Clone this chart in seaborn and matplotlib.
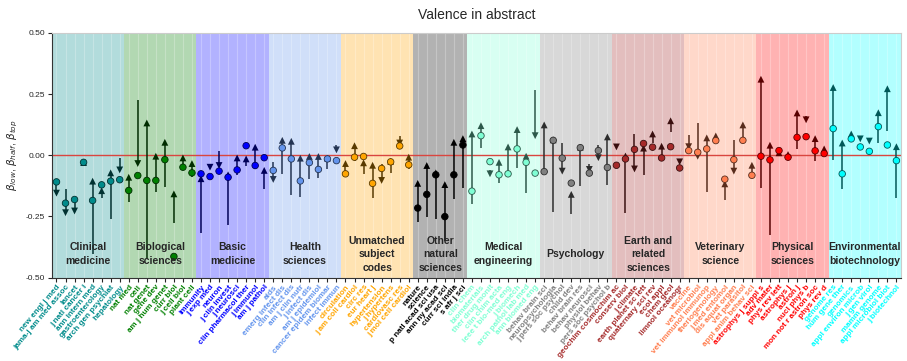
import numpy as np
import pandas as pd
import matplotlib
matplotlib.use("Agg")
import matplotlib.pyplot as plt
import seaborn as sns
from matplotlib.colors import to_rgb

# groups (subject areas) and their colours
groups = ["Clinical\nmedicine", "Biological\nsciences", "Basic\nmedicine", "Health\nsciences",
          "Unmatched\nsubject\ncodes", "Other\nnatural\nsciences", "Medical\nengineering",
          "Psychology", "Earth and\nrelated\nsciences", "Veterinary\nscience",
          "Physical\nsciences", "Environmental\nbiotechnology"]
group_colors = ["darkcyan", "green", "blue", "cornflowerblue", "orange", "black",
                "aquamarine", "gray", "brown", "coral", "red", "cyan"]

journals = [
    ["new engl j med", "jama-j am med assoc", "lancet", "j natl cancer i", "ann intern med",
     "gastroenterology", "arch gen psychiat", "hepatology"],
    ["nat med", "cell", "nat genet", "gene dev", "am j hum genet", "curr biol", "j cell biol", "plant cell"],
    ["immunity", "j exp med", "neuron", "j clin invest", "j neurosci", "clin pharmacol ther",
     "j immunol", "am j pathol"],
    ["aids", "emerg infect dis", "clin infect dis", "am j clin nutr", "j infect dis", "am j epidemiol",
     "cancer epidem biomar", "infect immun"],
    ["circulation", "j am coll cardiol", "circ res", "eur heart j", "hypertension", "j hypertens",
     "cardiovasc res", "j mol cell cardiol"],
    ["nature", "science", "p natl acad sci usa", "ann ny acad sci", "curr sci india", "s afr j sci"],
    ["clin chem", "biomaterials", "ther drug monit", "clin chim acta", "ieee t bio-med eng",
     "j biomech", "arch pathol lab med", "ann biomed eng"],
    ["behav brain sci", "neuropsychologia", "j pers soc psychol", "child dev", "behav brain res",
     "behav neurosci", "physiol behav", "pers soc psychol b"],
    ["geochim cosmochim ac", "conserv biol", "j climate", "earth planet sc lett", "quaternary sci rev",
     "ecol appl", "chem geol", "limnol oceanogr"],
    ["vaccine", "vet microbiol", "vet immunol immunop", "theriogenology", "j med entomol",
     "dis aquat organ", "vet parasitol", "appl anim behav sci"],
    ["astrophys j suppl s", "adv mater", "phys rev lett", "astrophys j", "astron j", "nucl phys b",
     "mon not r astron soc", "phys rev d"],
    ["genome res", "hum gene ther", "genomics", "appl environ microb", "j gen virol", "mamm genome",
     "appl microbiol biot", "j biotechnol"],
]

beta_low = [
    -0.115, -0.137, -0.180, -0.035, -0.405, -0.174, -0.262, -0.010,
    -0.190, 0.227, -0.425, -0.151, -0.129, -0.276, -0.050, -0.090,
    -0.317, -0.035, 0.016, -0.287, -0.082, -0.046, -0.058, -0.137,
    -0.029, -0.076, -0.164, -0.171, -0.096, -0.092, -0.056, 0.043,
    -0.070, -0.024, -0.075, -0.174, -0.035, -0.072, 0.080, -0.058,
    -0.272, -0.251, -0.260, -0.350, -0.178, -0.133,
    -0.198, 0.030, -0.060, -0.113, -0.076, -0.054, -0.154, 0.265,
    -0.067, -0.232, 0.050, -0.242, -0.124, -0.034, 0.043, -0.120,
    0.045, -0.238, 0.087, -0.082, 0.050, 0.000, 0.094, -0.020,
    0.084, 0.132, -0.151, 0.055, -0.183, 0.061, 0.055, -0.075,
    -0.133, -0.327, 0.000, -0.010, 0.026, 0.160, -0.024, 0.000,
    -0.020, -0.140, 0.060, 0.075, 0.065, 0.050, 0.100, -0.174,
]
beta_half = [
    -0.109, -0.196, -0.181, -0.029, -0.185, -0.121, -0.106, -0.100,
    -0.144, -0.083, -0.103, -0.103, -0.018, -0.414, -0.049, -0.072,
    -0.076, -0.087, -0.065, -0.090, -0.060, 0.039, -0.042, -0.010,
    -0.062, 0.030, -0.015, -0.105, -0.030, -0.058, -0.015, -0.022,
    -0.076, -0.008, -0.005, -0.115, -0.054, -0.027, 0.038, -0.039,
    -0.216, -0.160, -0.080, -0.251, -0.080, 0.042,
    -0.147, 0.080, -0.026, -0.080, -0.076, 0.026, -0.029, -0.073,
    -0.067, 0.061, -0.012, -0.114, 0.031, -0.073, 0.019, -0.050,
    -0.041, -0.015, 0.024, 0.048, 0.033, -0.011, 0.035, -0.052,
    0.019, 0.012, 0.026, 0.060, -0.098, -0.018, 0.061, -0.082,
    -0.004, -0.019, 0.019, -0.008, 0.073, 0.076, 0.018, 0.007,
    0.109, -0.076, 0.067, 0.034, 0.016, 0.117, 0.042, -0.022,
]
beta_top = [
    -0.155, -0.235, -0.228, -0.030, -0.106, -0.145, -0.072, -0.060,
    -0.090, -0.034, 0.132, -0.004, 0.053, -0.158, -0.011, -0.034,
    -0.096, -0.049, -0.042, -0.080, -0.011, -0.015, 0.033, -0.062,
    -0.099, 0.061, 0.057, -0.012, -0.005, -0.005, -0.012, 0.022,
    -0.034, 0.039, -0.031, -0.041, -0.103, -0.025, 0.050, -0.008,
    -0.115, -0.042, -0.072, -0.120, 0.053, 0.068,
    0.087, 0.121, -0.076, -0.029, 0.034, 0.105, -0.004, 0.080,
    0.124, 0.063, -0.065, -0.160, 0.033, -0.058, -0.010, 0.075,
    0.034, -0.003, -0.056, 0.029, 0.087, 0.037, 0.141, -0.027,
    0.035, -0.004, 0.071, 0.079, -0.117, -0.065, 0.124, -0.041,
    0.311, 0.041, 0.010, 0.003, 0.173, 0.145, 0.068, 0.026,
    0.277, 0.050, 0.087, 0.067, 0.058, 0.174, 0.272, 0.035,
]

# ---- table ----
rows = []
for g, names in zip(groups, journals):
    for n in names:
        rows.append((g, n))
df = pd.DataFrame(rows, columns=["group", "journal"])
df["pos"] = np.arange(len(df))
df["low"] = beta_low
df["half"] = beta_half
df["top"] = beta_top
df["dir"] = np.where(df["top"] >= df["low"], "up", "down")

pal = dict(zip(groups, group_colors))
dark = {g: tuple(np.array(to_rgb(c)) * 0.35) for g, c in pal.items()}

sns.set_style("ticks")
plt.rcParams["font.family"] = ["Liberation Sans", "DejaVu Sans"]

fig = plt.figure(figsize=(9.07, 3.61), dpi=100)
ax = fig.add_axes([0.0573, 0.2313, 0.9360, 0.6773])

# coloured bands + group names
start = 0
for g, names in zip(groups, journals):
    end = start + len(names)
    ax.axvspan(start - 0.5, end - 0.5, color=pal[g], alpha=0.3, lw=0, zorder=0)
    ax.text((start + end - 1) / 2, -0.405, g, ha="center", va="center", fontsize=7.5,
            fontweight="bold", linespacing=1.45, zorder=5)
    start = end

for p in df["pos"]:
    ax.axvline(p, color="white", alpha=0.25, lw=0.8, zorder=0.5)

ax.axhline(0, color="#d9453f", lw=1, zorder=1)

ax.vlines(df["pos"], df["low"], df["top"], colors=[dark[g] for g in df["group"]], lw=1.1, zorder=2)

sns.scatterplot(data=df, x="pos", y="top", hue="group", palette=dark, style="dir",
                markers={"up": "^", "down": "v"}, s=24, edgecolor="none", legend=False,
                ax=ax, zorder=3)
sns.scatterplot(data=df, x="pos", y="half", hue="group", palette=pal, s=22,
                edgecolor=[dark[g] for g in df["group"]], linewidth=0.6, legend=False,
                ax=ax, zorder=4)

ax.set_xlim(-0.5, len(df) - 0.5)
ax.set_ylim(-0.5, 0.5)
ax.set_yticks([-0.5, -0.25, 0, 0.25, 0.5])
ax.set_yticklabels(["-0.50", "-0.25", "0.00", "0.25", "0.50"], fontsize=6)
ax.set_xticks(df["pos"])
ax.set_xticklabels(df["journal"], rotation=50, ha="right", rotation_mode="anchor",
                   fontsize=5.9, fontweight="bold")
for lab, g in zip(ax.get_xticklabels(), df["group"]):
    lab.set_color(pal[g])
ax.tick_params(axis="both", length=3, width=0.8, pad=2)
ax.tick_params(axis="x", pad=1.5)
ax.set_xlabel("")
ax.set_ylabel(r"$\beta_{low}$, $\beta_{half}$, $\beta_{top}$", fontsize=7.5, labelpad=4)
ax.set_title("Valence in abstract", fontsize=10, pad=10)
for s in ["top", "right"]:
    ax.spines[s].set_color("#cccccc")
    ax.spines[s].set_linewidth(0.8)
for s in ["left", "bottom"]:
    ax.spines[s].set_color("#333333")
    ax.spines[s].set_linewidth(0.8)

fig.savefig("out.png", dpi=100)
